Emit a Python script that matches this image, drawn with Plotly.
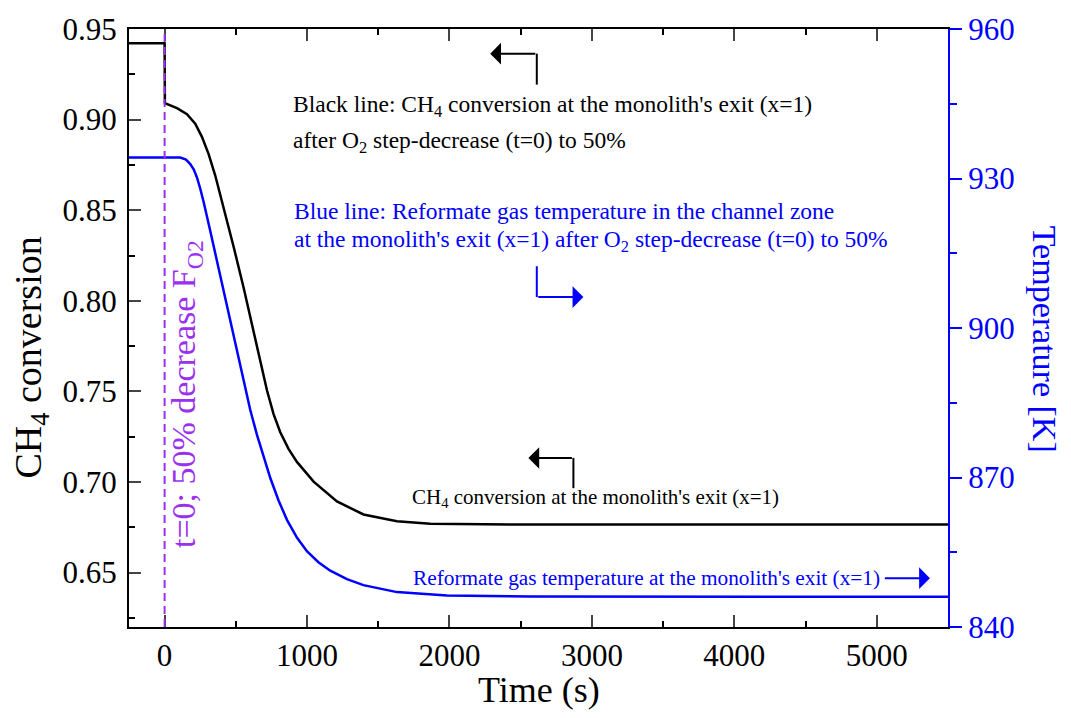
import plotly.graph_objects as go

# CH4 conversion at the monolith exit (left axis)
t_ch4 = [-250, 0, 2, 87, 157, 215, 262, 309, 356, 414, 484, 554, 613, 672, 719, 765, 812,
         870, 929, 1046, 1210, 1396, 1631, 1865, 2566, 5500]
x_ch4 = [0.9422, 0.9422, 0.9091, 0.9063, 0.9030, 0.8978, 0.8905, 0.8810, 0.8690, 0.8515,
         0.8300, 0.8075, 0.7870, 0.7665, 0.7505, 0.7375, 0.7275, 0.7183, 0.7111, 0.7002,
         0.6893, 0.6821, 0.6784, 0.6770, 0.6765, 0.6765]

# Reformate gas temperature at the monolith exit (right axis, K)
t_gas = [-250, 0, 110, 150, 180, 205, 227, 250, 274, 321, 368, 414, 461, 508, 554, 601,
         648, 700, 742, 800, 859, 930, 999, 1080, 1163, 1280, 1396, 1631, 1982, 2566, 5500]
T_gas = [934.2, 934.2, 934.2, 933.8, 932.9, 931.8, 930.2, 928.0, 925.3, 919.4, 913.3,
         907.3, 901.2, 895.1, 889.2, 883.6, 878.6, 873.6, 869.9, 865.4, 861.5, 857.9,
         855.2, 853.0, 851.3, 849.6, 848.4, 847.0, 846.3, 846.1, 846.05]

x_ticks = [0, 1000, 2000, 3000, 4000, 5000]
y_ticks = [0.65, 0.70, 0.75, 0.80, 0.85, 0.90, 0.95]
y2_ticks = [840, 870, 900, 930, 960]

FONT = "Liberation Serif, Times New Roman, serif"
BLUE = "#0000FF"
PURPLE = "#9B30F0"

fig = go.Figure()
fig.add_trace(go.Scatter(x=t_ch4, y=x_ch4, mode="lines", yaxis="y",
                         line=dict(color="black", width=2.5), showlegend=False))
fig.add_trace(go.Scatter(x=t_gas, y=T_gas, mode="lines", yaxis="y2",
                         line=dict(color=BLUE, width=2.5), showlegend=False))

# t = 0 marker
fig.add_shape(type="line", xref="x", yref="paper", x0=0, x1=0, y0=0, y1=1,
              line=dict(color=PURPLE, width=2, dash="8px,5px"))

# elbow arrows: vertical legs as shapes, horizontal legs with heads as annotations
def h_arrow(x_tail, x_head, y, yref, color):
    fig.add_annotation(x=x_head, y=y, ax=x_tail, ay=y, xref="x", yref=yref, axref="x",
                       ayref=yref, text="", showarrow=True, arrowhead=1, arrowsize=1.8,
                       arrowwidth=2, arrowcolor=color, standoff=0, startstandoff=0)

def elbow(xv, y0, y1, xh, yref, color):
    fig.add_shape(type="line", xref="x", yref=yref, x0=xv, x1=xv, y0=y0, y1=y1,
                  line=dict(color=color, width=2))
    h_arrow(xv, xh, y1, yref, color)

elbow(2613, 0.9193, 0.9364, 2286, "y", "black")
elbow(2613, 912.4, 906.2, 2940, "y2", BLUE)
elbow(2870, 0.6966, 0.7133, 2554, "y", "black")
h_arrow(5046, 5373, 849.8, "y2", BLUE)

def note(x, y, text, yref, color, size):
    fig.add_annotation(x=x, y=y, xref="x", yref=yref, text=text, showarrow=False,
                       xanchor="left", yanchor="middle",
                       font=dict(family=FONT, size=size, color=color))

note(889, 0.9073, "Black line: CH<sub>4</sub> conversion at the monolith's exit (x=1)", "y", "black", 23.5)
note(889, 0.8877, "after O<sub>2</sub> step-decrease (t=0) to 50%", "y", "black", 23.5)
note(896, 923.5, "Blue line: Reformate gas temperature in the channel zone", "y2", BLUE, 23.5)
note(896, 917.5, "at the monolith's exit (x=1) after O<sub>2</sub> step-decrease (t=0) to 50%", "y2", BLUE, 23.5)
note(1725, 0.6910, "CH<sub>4</sub> conversion at the monolith's exit (x=1)", "y", "black", 21)
note(1728, 849.8, "Reformate gas temperature at the monolith's exit (x=1)", "y2", BLUE, 21.3)

fig.add_annotation(x=152, y=0.7487, xref="x", yref="y", text="t=0; 50% decrease F<sub>O2</sub>",
                   textangle=-90, showarrow=False, xanchor="center", yanchor="middle",
                   font=dict(family=FONT, size=34, color=PURPLE))

# axis titles
fig.add_annotation(x=-0.12, y=0.45, xref="paper", yref="paper", text="CH<sub>4</sub> conversion",
                   textangle=-90, showarrow=False, xanchor="center", yanchor="middle",
                   font=dict(family=FONT, size=38, color="black"))
fig.add_annotation(x=1.118, y=0.481, xref="paper", yref="paper", text="Temperature [K]",
                   textangle=90, showarrow=False, xanchor="center", yanchor="middle",
                   font=dict(family=FONT, size=34, color=BLUE))
fig.add_annotation(x=0.5, y=-0.105, xref="paper", yref="paper", text="Time (s)",
                   showarrow=False, xanchor="center", yanchor="middle",
                   font=dict(family=FONT, size=36, color="black"))

fig.update_layout(
    width=1071, height=718,
    margin=dict(l=129, r=123, t=22, b=91),
    paper_bgcolor="white", plot_bgcolor="white",
    font=dict(family=FONT, size=31, color="black"),
    xaxis=dict(range=[-250, 5500], tickvals=x_ticks, ticks="inside", ticklen=12, tickwidth=2,
               showline=True, linewidth=2, linecolor="black", mirror="ticks",
               showgrid=False, zeroline=False,
               minor=dict(dtick=500, tick0=0, ticks="inside", ticklen=6, tickwidth=2,
                          tickcolor="black"),
               tickfont=dict(family=FONT, size=31)),
    yaxis=dict(range=[0.62, 0.95], tickvals=y_ticks, tickformat=".2f", ticks="inside",
               ticklen=12, tickwidth=2, showline=True, linewidth=2, linecolor="black",
               showgrid=False, zeroline=False, ticklabelstandoff=4,
               minor=dict(dtick=0.025, tick0=0.65, ticks="inside", ticklen=6, tickwidth=2,
                          tickcolor="black"),
               tickfont=dict(family=FONT, size=31)),
    yaxis2=dict(range=[840, 960], tickvals=y2_ticks, overlaying="y", side="right",
                ticks="outside", ticklen=12, tickwidth=2, tickcolor=BLUE,
                showline=True, linewidth=2, linecolor=BLUE, showgrid=False, zeroline=False,
                minor=dict(dtick=15, tick0=840, ticks="outside", ticklen=7, tickwidth=2,
                           tickcolor=BLUE),
                tickfont=dict(family=FONT, size=31, color=BLUE)),
)

fig.write_html("out.html")
